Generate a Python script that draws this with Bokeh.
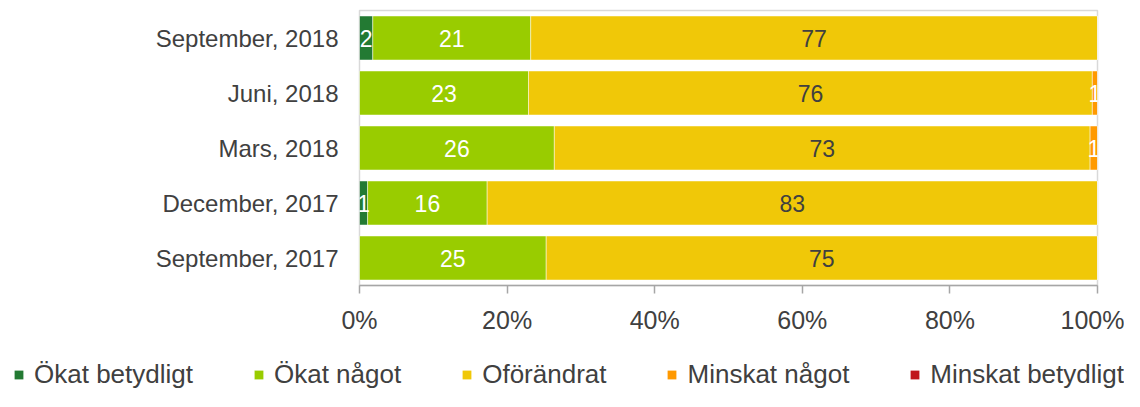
from bokeh.plotting import figure
from bokeh.models import (ColumnDataSource, FactorRange, Range1d, FixedTicker,
                          PrintfTickFormatter, Legend, LegendItem)
from bokeh.core.properties import value
from bokeh.embed import file_html
from bokeh.resources import INLINE

# ---- data ----
categories = ["September, 2018", "Juni, 2018", "Mars, 2018", "December, 2017", "September, 2017"]
series_names = ["Ökat betydligt", "Ökat något", "Oförändrat", "Minskat något", "Minskat betydligt"]
okat_betydligt = [1.8, 0.0, 0.0, 1.1, 0.0]
okat_nagot = [21.4, 22.9, 26.4, 16.2, 25.3]
oforandrat = [76.8, 76.4, 72.6, 82.7, 74.7]
minskat_nagot = [0.0, 0.7, 1.0, 0.0, 0.0]
minskat_betydligt = [0.0, 0.0, 0.0, 0.0, 0.0]
x_ticks = [0, 20, 40, 60, 80, 100]

colors = ["#237A33", "#99CC00", "#F0C808", "#FF9900", "#C0161C"]
label_colors = ["white", "white", "#404040", "white", "white"]
FONT = "Liberation Sans"
W = 1124

keys = ["s0", "s1", "s2", "s3", "s4"]
series = [okat_betydligt, okat_nagot, oforandrat, minskat_nagot, minskat_betydligt]
source = ColumnDataSource(dict(cat=categories, **{k: v for k, v in zip(keys, series)}))

p = figure(width=W, height=340, output_backend="svg", toolbar_location=None,
           y_range=FactorRange(factors=list(reversed(categories)), range_padding=0, factor_padding=0),
           x_range=Range1d(0, 100),
           min_border_left=359, min_border_right=27, min_border_top=10, min_border_bottom=55)
p.background_fill_color = "white"
p.border_fill_color = "white"
p.outline_line_color = "#d9d9d9"
p.outline_line_width = 1.5
p.xgrid.visible = False
p.ygrid.visible = False

p.hbar_stack(keys, y="cat", height=0.8, color=colors, source=source,
             line_color="white", line_alpha=0.6, line_width=0.8)

# data labels
lx, ly, lt, lc = [], [], [], []
for i, cat in enumerate(categories):
    cum = 0.0
    for j, s in enumerate(series):
        v = s[i]
        if v > 0:
            lx.append(cum + v / 2)
            ly.append(cat)
            lt.append(str(int(round(v))))
            lc.append(label_colors[j])
        cum += v
lsrc = ColumnDataSource(dict(x=lx, y=ly, t=lt, c=lc))
p.text(x="x", y="y", text="t", text_color="c", source=lsrc, text_align="center",
       text_baseline="middle", text_font=value(FONT), text_font_size="23px")

# axes
xa = p.xaxis[0]
xa.ticker = FixedTicker(ticks=x_ticks)
xa.formatter = PrintfTickFormatter(format="%d%%")
xa.axis_line_color = "#a6a6a6"
xa.axis_line_width = 1.5
xa.major_tick_line_color = "#a6a6a6"
xa.major_tick_line_width = 1.5
xa.major_tick_in = 0
xa.major_tick_out = 8
xa.minor_tick_line_color = None
xa.major_label_text_font = FONT
xa.major_label_text_font_size = "25px"
xa.major_label_text_color = "#404040"
xa.major_label_standoff = 12

ya = p.yaxis[0]
ya.axis_line_color = None
ya.major_tick_line_color = None
ya.major_tick_in = 0
ya.major_tick_out = 0
ya.minor_tick_line_color = None
ya.major_label_text_font = FONT
ya.major_label_text_font_size = "24px"
ya.major_label_text_color = "#404040"
ya.major_label_standoff = 21

# legend strip: a separate root whose frame spans the full width
p2 = figure(width=W, height=51, output_backend="svg", toolbar_location=None,
            x_range=Range1d(0, 100), y_range=FactorRange(factors=categories),
            x_axis_type=None, y_axis_type=None,
            min_border_left=0, min_border_right=0, min_border_top=0, min_border_bottom=0)
p2.outline_line_color = None
p2.grid.visible = False
p2.border_fill_color = "white"
p2.background_fill_color = "white"
leg_renderers = p2.hbar_stack(keys, y="cat", height=0.0, color=colors, source=source,
                              line_color=None)
items = [LegendItem(label=n, renderers=[r]) for n, r in zip(series_names, leg_renderers)]
legend = Legend(items=items, orientation="horizontal", location=(13, 1),
                padding=0, margin=0, spacing=60, label_standoff=10,
                glyph_width=11, glyph_height=11, border_line_color=None,
                background_fill_alpha=0, label_text_font=FONT,
                label_text_font_size="26px", label_text_color="#404040")
p2.add_layout(legend)

open("out.html", "w").write(file_html([p, p2], INLINE))
